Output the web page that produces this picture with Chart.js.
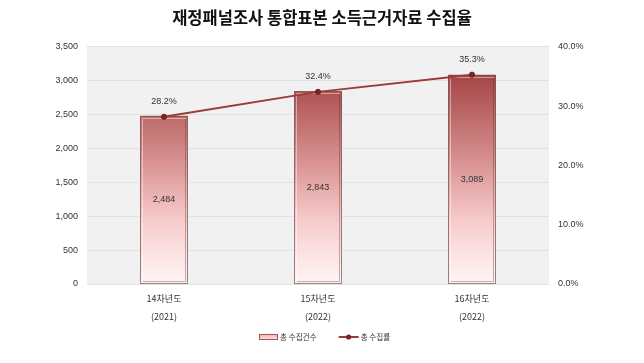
<!DOCTYPE html>
<html><head><meta charset="utf-8">
<script src="https://cdn.jsdelivr.net/npm/chart.js@4"></script>
<style>html,body{margin:0;padding:0;background:#fff}#wrap{width:644px;height:363px}</style>
</head><body><div id="wrap"><canvas id="c" width="644" height="363"></canvas></div>
<script>
const categories = [["14차년도","(2021)"],["15차년도","(2022)"],["16차년도","(2022)"]];
const countValues = [2484, 2843, 3089];
const rateValues = [28.2, 32.4, 35.3];
const countLabel = "총 수집건수";
const rateLabel = "총 수집률";
const titleText = "재정패널조사 통합표본 소득근거자료 수집율";

const FONT = "'Liberation Sans', Arial, sans-serif";
const KFONT = "'Noto Sans CJK KR', 'Noto Sans', sans-serif";

function barGradient(ctx){
  const chart = ctx.chart; const a = chart.chartArea;
  if(!a) return '#c66';
  const g = chart.ctx.createLinearGradient(0, chart.scales.y.getPixelForValue(3100), 0, a.bottom);
  g.addColorStop(0, '#a44444');
  g.addColorStop(0.4, '#d68e8e');
  g.addColorStop(0.7, '#f8cccc');
  g.addColorStop(1, '#fff6f6');
  return g;
}

const bgPlugin = {
  id:'bg',
  beforeDraw(chart){
    const {ctx, chartArea:a} = chart;
    ctx.save(); ctx.fillStyle='#f1f1f1'; ctx.fillRect(a.left,a.top,a.right-a.left,a.bottom-a.top); ctx.restore();
  }
};
const bevelPlugin = {
  id:'bevel',
  afterDatasetDraw(chart, args){
    const meta = args.meta;
    if(meta.type !== 'bar') return;
    const ctx = chart.ctx;
    ctx.save();
    meta.data.forEach(el=>{
      const l = Math.round(el.x - el.width/2), r = Math.round(el.x + el.width/2);
      const t = Math.round(el.y), b = Math.round(el.base);
      ctx.lineWidth = 1;
      ctx.strokeStyle = 'rgba(255,255,255,0.45)';
      ctx.beginPath(); ctx.moveTo(l+2.5, b-2); ctx.lineTo(l+2.5, t+2.5); ctx.lineTo(r-2, t+2.5); ctx.stroke();
      ctx.strokeStyle = 'rgba(90,40,40,0.35)';
      ctx.beginPath(); ctx.moveTo(r-2.5, t+3); ctx.lineTo(r-2.5, b-2.5); ctx.lineTo(l+3, b-2.5); ctx.stroke();
      ctx.strokeStyle = 'rgba(110,80,80,0.7)';
      ctx.strokeRect(l+0.5, t+0.5, r-l-1, b-t-1);
    });
    ctx.restore();
  }
};
const labelPlugin = {
  id:'lbls',
  afterDatasetsDraw(chart){
    const ctx = chart.ctx;
    ctx.save();
    ctx.font = "9px " + FONT; ctx.fillStyle = '#333'; ctx.textAlign='center'; ctx.textBaseline='middle';
    const barMeta = chart.getDatasetMeta(1);
    barMeta.data.forEach((el,i)=>{
      const y = (el.y + el.base)/2;
      ctx.fillText(countValues[i].toLocaleString('en-US'), el.x, y);
    });
    const lineMeta = chart.getDatasetMeta(0);
    lineMeta.data.forEach((el,i)=>{
      ctx.fillText(rateValues[i].toFixed(1)+'%', el.x, el.y-15);
    });
    ctx.restore();
  }
};
const legendPlugin = {
  id:'customLegend',
  afterDraw(chart){
    const ctx = chart.ctx;
    ctx.save();
    ctx.font = "7.6px " + KFONT; ctx.fillStyle='#333'; ctx.textBaseline='middle'; ctx.textAlign='left';
    const w1 = ctx.measureText(countLabel).width, w2 = ctx.measureText(rateLabel).width;
    const total = 19 + 2 + w1 + 22 + 20 + 2 + w2;
    let x = Math.round(325 - total/2);
    const y = 337;
    const g = ctx.createLinearGradient(0, y-3, 0, y+3);
    g.addColorStop(0,'#eab0b0'); g.addColorStop(1,'#fde8e8');
    ctx.fillStyle = g; ctx.fillRect(x, y-3, 19, 6);
    ctx.strokeStyle = '#b05050'; ctx.lineWidth = 1; ctx.strokeRect(x+0.5, y-2.5, 18, 5);
    x += 21;
    ctx.fillStyle = '#333'; ctx.fillText(countLabel, x, y);
    x += w1 + 22;
    ctx.strokeStyle = '#9e3a3a'; ctx.lineWidth = 2;
    ctx.beginPath(); ctx.moveTo(x, y); ctx.lineTo(x+20, y); ctx.stroke();
    ctx.fillStyle = '#7b2222'; ctx.beginPath(); ctx.arc(x+10, y, 2.6, 0, Math.PI*2); ctx.fill();
    x += 22;
    ctx.fillStyle = '#333'; ctx.fillText(rateLabel, x, y);
    ctx.restore();
  }
};

new Chart(document.getElementById('c'), {
  data:{
    labels: categories,
    datasets:[
      {type:'line', label: rateLabel, data: rateValues, yAxisID:'y1', order:0,
       borderColor:'#9e3a3a', borderWidth:2, pointRadius:2.6, pointBorderWidth:1, pointBackgroundColor:'#7b2222', pointBorderColor:'#7b2222',
       tension:0},
      {type:'bar', label: countLabel, data: countValues, yAxisID:'y', order:1,
       backgroundColor: barGradient, borderWidth:0, barPercentage:0.31, categoryPercentage:1}
    ]
  },
  options:{
    responsive:false, animation:false, devicePixelRatio:1,
    layout:{padding:{top:6,left:0,right:0,bottom:31}},
    plugins:{
      title:{display:true, text:titleText, color:'#111', font:{family:KFONT, size:16.5, weight:'bold'}, padding:{top:2,bottom:19}},
      legend:{display:false},
      tooltip:{enabled:false}
    },
    scales:{
      x:{grid:{display:false, drawTicks:false}, border:{display:false},
         ticks:{color:'#333', font:{family:KFONT,size:9,lineHeight:2}, padding:6}},
      y:{position:'left', min:0, max:3500, border:{display:false},
         grid:{color:'#e2e2e2', drawTicks:false},
         afterFit(s){ s.width = 87; },
         ticks:{stepSize:500, padding:9, color:'#333', font:{family:FONT,size:9},
           callback:v=>v.toLocaleString('en-US')}},
      y1:{position:'right', min:0, max:40, border:{display:false},
         grid:{display:false, drawTicks:false},
         afterFit(s){ s.width = 95; },
         ticks:{stepSize:10, padding:9, color:'#333', font:{family:FONT,size:9},
           callback:v=>v.toFixed(1)+'%'}}
    }
  },
  plugins:[bgPlugin, bevelPlugin, labelPlugin, legendPlugin]
});
</script></body></html>
